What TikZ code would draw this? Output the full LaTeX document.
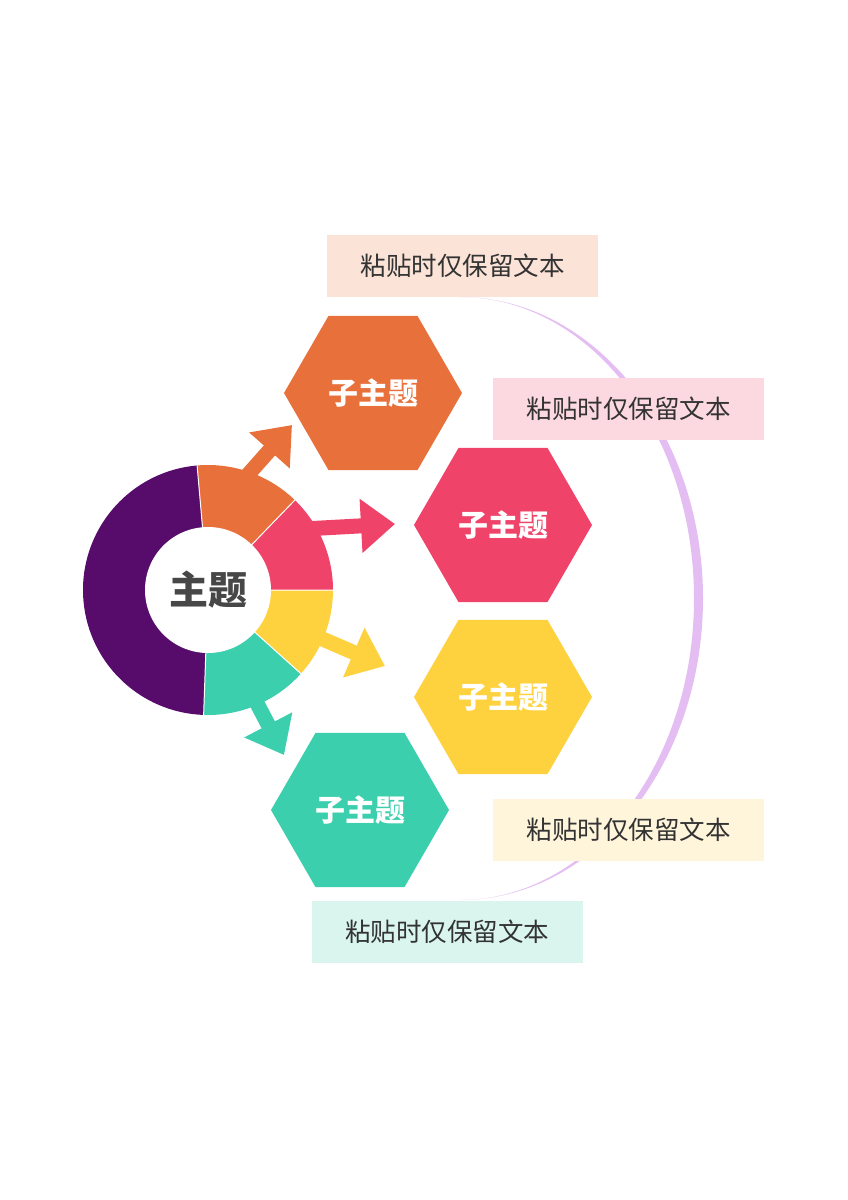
\documentclass[tikz,border=0pt]{standalone}
\usepackage{fontspec}
\setmainfont{Noto Sans CJK SC}
\usetikzlibrary{arrows.meta,shapes.geometric}
\definecolor{cpur}{HTML}{570C6B}
\definecolor{corg}{HTML}{E8703A}
\definecolor{cred}{HTML}{EF4369}
\definecolor{cyel}{HTML}{FED23F}
\definecolor{ctea}{HTML}{3BCFAE}
\definecolor{clav}{HTML}{E4BEF2}
\definecolor{ctxt}{HTML}{333333}
\begin{document}
\begin{tikzpicture}[x=1pt,y=-1pt,
 hexa/.style={regular polygon,regular polygon sides=6,shape border rotate=0,minimum size=178pt,inner sep=0pt,text=white,font=\bfseries\fontsize{30}{33}\selectfont},
 lbl/.style={minimum width=271pt,minimum height=62pt,inner sep=0pt,text=ctxt,font=\fontsize{25.5}{28}\selectfont},
 arr/.style={line width=15pt,-{Triangle[length=34pt,width=52pt]}}]
\useasboundingbox (0,0) rectangle (848,1200);
% crescent arc
\fill[clav] (460,297) arc[start angle=-90,end angle=90,x radius=243,y radius=301.5] arc[start angle=90,end angle=-90,x radius=234,y radius=301.5];
% donut
\coordinate (c) at (208,590);
\fill[cpur] (c) -- ++(-95:125) arc[start angle=-95,end angle=-268,radius=125] -- cycle;
\fill[corg] (c) -- ++(-46:125) arc[start angle=-46,end angle=-95,radius=125] -- cycle;
\fill[cred] (c) -- ++(0:125) arc[start angle=0,end angle=-46,radius=125] -- cycle;
\fill[cyel] (c) -- ++(42:125) arc[start angle=42,end angle=0,radius=125] -- cycle;
\fill[ctea] (c) -- ++(92:125) arc[start angle=92,end angle=42,radius=125] -- cycle;
\draw[white,line width=1pt] (c) -- ++(-95:125) (c) -- ++(-46:125) (c) -- ++(0:125) (c) -- ++(42:125) (c) -- ++(92:125);
\node[circle,fill=white,minimum size=126pt,inner sep=0pt,text=ctxt!90,font=\bfseries\fontsize{39}{43}\selectfont] (main) at (c) {主题};
% arrows
\coordinate (a1s) at (245,478); \coordinate (a1e) at (292,425);
\coordinate (a2s) at (285,530); \coordinate (a2e) at (395,524);
\coordinate (a3s) at (290,625); \coordinate (a3e) at (385,666);
\coordinate (a4s) at (250,690); \coordinate (a4e) at (284,755);
\draw[arr,corg] (a1s) -- (a1e);
\draw[arr,cred] (a2s) -- (a2e);
\draw[arr,cyel] (a3s) -- (a3e);
\draw[arr,ctea] (a4s) -- (a4e);
% hexagons
\node[hexa,fill=corg] (h1) at (373,393) {子主题};
\node[hexa,fill=cred] (h2) at (503,525) {子主题};
\node[hexa,fill=cyel] (h3) at (503,697) {子主题};
\node[hexa,fill=ctea] (h4) at (360,810) {子主题};
% labels
\node[lbl,fill={rgb,255:red,251;green,227;blue,216}] (l1) at (462.5,266) {粘贴时仅保留文本};
\node[lbl,fill={rgb,255:red,252;green,217;blue,225}] (l2) at (628.5,409) {粘贴时仅保留文本};
\node[lbl,fill={rgb,255:red,254;green,245;blue,219}] (l3) at (628.5,830) {粘贴时仅保留文本};
\node[lbl,fill={rgb,255:red,217;green,245;blue,238}] (l4) at (447,932) {粘贴时仅保留文本};
\end{tikzpicture}
\end{document}
